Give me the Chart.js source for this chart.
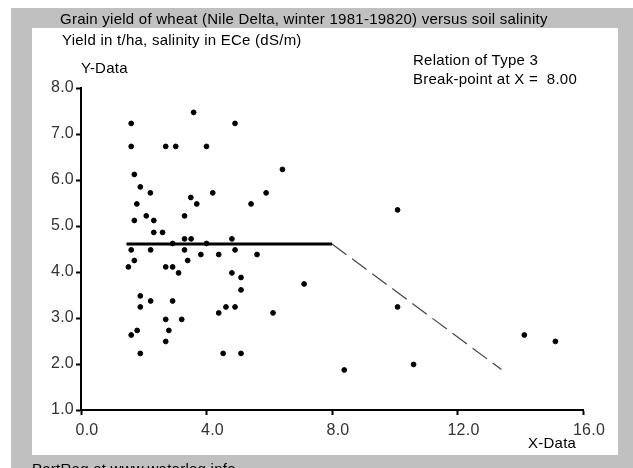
<!DOCTYPE html>
<html>
<head>
<meta charset="utf-8">
<script src="https://cdn.jsdelivr.net/npm/chart.js@4"></script>
<style>
  html, body { margin:0; padding:0; width:633px; height:468px; overflow:hidden; background:#fff; }
  body { position:relative; font-family:"Liberation Sans", Arial, sans-serif; font-size:15px; letter-spacing:0.25px; color:#000; }
  .frame { position:absolute; left:11px; top:8px; width:622px; height:460px; background:#c0c0c0; }
  .panel { position:absolute; left:32px; top:28px; width:586px; height:427px; background:#fff; }
  .txt { position:absolute; white-space:nowrap; line-height:17px; }
  #chartBox { position:absolute; left:0; top:0; width:633px; height:468px; }
</style>
</head>
<body>
<div class="frame"></div>
<div class="panel"></div>
<div id="chartBox"><canvas id="yieldChart" width="633" height="468"></canvas></div>
<div class="txt" style="left:60px; top:10px;">Grain yield of wheat (Nile Delta, winter 1981-19820) versus soil salinity</div>
<div class="txt" style="left:62px; top:31px;">Yield in t/ha, salinity in ECe (dS/m)</div>
<div class="txt" style="left:81px; top:59px;">Y-Data</div>
<div class="txt" style="left:413px; top:51px;">Relation of Type 3</div>
<div class="txt" style="left:413px; top:70px;">Break-point at X =&nbsp; 8.00</div>
<div class="txt" style="left:528px; top:434px;">X-Data</div>
<div class="txt" style="left:32px; top:460px;">PartReg at www.waterlog.info</div>
<script>
// salinity ECe (dS/m)
const salinity = [
  3.59, 1.60, 1.60, 2.70, 3.02, 4.00, 1.70, 1.89, 2.21, 4.20, 3.50, 1.78, 3.69, 2.08, 3.30, 1.70, 2.32,
  4.91, 6.42, 5.90, 5.42,
  2.32, 2.60, 3.30, 3.51, 2.92, 4.00, 1.60, 2.22, 3.30, 3.82, 1.70, 3.40, 1.51, 2.70, 2.92, 3.11,
  1.89, 2.22, 2.92, 1.89, 2.70, 3.21, 1.79, 2.80, 1.60, 2.70, 1.89,
  4.81, 4.91, 4.39, 5.61, 4.81, 5.10, 7.11, 5.10, 4.62, 4.91, 4.39, 6.12, 4.53, 5.10,
  10.09, 10.09, 8.39, 10.60, 14.13, 15.12
];
// grain yield (t/ha)
const grainYield = [
  7.47, 7.23, 6.73, 6.73, 6.73, 6.73, 6.12, 5.85, 5.72, 5.72, 5.62, 5.48, 5.48, 5.22, 5.22, 5.12, 5.12,
  7.23, 6.23, 5.72, 5.48,
  4.86, 4.86, 4.72, 4.72, 4.62, 4.62, 4.48, 4.48, 4.48, 4.38, 4.25, 4.25, 4.11, 4.11, 4.11, 3.98,
  3.48, 3.37, 3.37, 3.24, 2.97, 2.97, 2.73, 2.73, 2.63, 2.49, 2.23,
  4.72, 4.48, 4.38, 4.38, 3.98, 3.88, 3.74, 3.61, 3.24, 3.24, 3.11, 3.11, 2.23, 2.23,
  5.35, 3.24, 1.87, 1.99, 2.63, 2.49
];

// fitted relation: level part and sloping part after the break-point
const flatX = [1.45, 8.0];
const flatY = [4.61, 4.61];
const slopeX = [8.0, 13.4];
const slopeY = [4.61, 1.88];

const xTicks = [0, 4, 8, 12, 16];
const yTicks = [1, 2, 3, 4, 5, 6, 7, 8];

function toPoints(xs, ys) {
  return xs.map((x, i) => ({ x: x, y: ys[i] }));
}

const axisFont = { family: '"Liberation Sans", Arial, sans-serif', size: 16 };

new Chart(document.getElementById('yieldChart'), {
  type: 'scatter',
  data: {
    datasets: [
      {
        label: 'Observed',
        data: toPoints(salinity, grainYield),
        backgroundColor: '#000',
        borderColor: '#000',
        pointRadius: 2.4,
        pointHoverRadius: 2.4,
        order: 1
      },
      {
        label: 'Level',
        data: toPoints(flatX, flatY),
        showLine: true,
        borderColor: '#000',
        borderWidth: 3,
        pointRadius: 0,
        order: 2
      },
      {
        label: 'Slope',
        data: toPoints(slopeX, slopeY),
        showLine: true,
        borderColor: '#444',
        borderWidth: 1.2,
        borderDash: [18, 7],
        pointRadius: 0,
        order: 3
      }
    ]
  },
  options: {
    responsive: false,
    animation: false,
    layout: { padding: { left: 41, top: 88, right: 50, bottom: 28 } },
    plugins: {
      legend: { display: false },
      tooltip: { enabled: false }
    },
    scales: {
      x: {
        type: 'linear',
        min: 0,
        max: 16,
        afterBuildTicks: s => { s.ticks = xTicks.map(v => ({ value: v })); },
        afterFit: s => { s.height = 30; },
        ticks: {
          color: '#333',
          font: axisFont,
          padding: 6,
          labelOffset: 6,
          maxRotation: 0,
          callback: v => Number(v).toFixed(1)
        },
        grid: { drawOnChartArea: false, color: '#000', tickLength: 5, tickWidth: 2 },
        border: { color: '#000', width: 2 }
      },
      y: {
        type: 'linear',
        min: 1,
        max: 8,
        afterBuildTicks: s => { s.ticks = yTicks.map(v => ({ value: v })); },
        afterFit: s => { s.width = 40; },
        ticks: {
          color: '#333',
          font: axisFont,
          padding: 2,
          callback: v => Number(v).toFixed(1)
        },
        grid: { drawOnChartArea: false, color: '#000', tickLength: 5, tickWidth: 2 },
        border: { color: '#000', width: 2 }
      }
    }
  }
});
</script>
</body>
</html>
